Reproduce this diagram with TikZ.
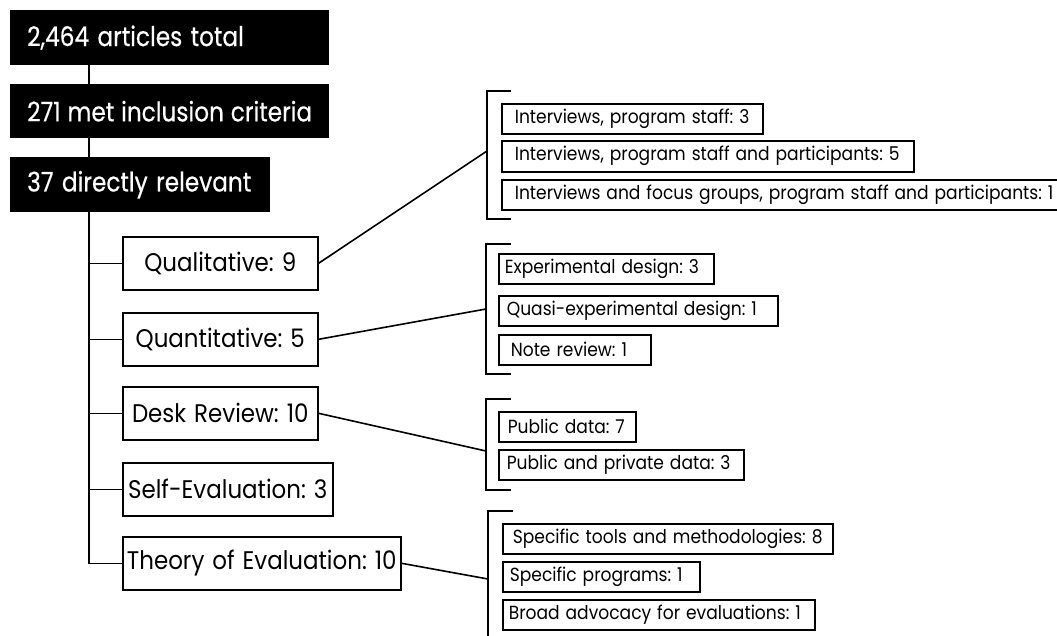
\documentclass[tikz,border=0pt]{standalone}
\usepackage{fontspec}
\setmainfont[FakeStretch=0.9,WordSpace=1.3]{Poppins}
\newfontfamily\medfont[FakeStretch=0.86,FakeBold=0.5,WordSpace=1.35]{Poppins}
\frenchspacing
\begin{document}
\begin{tikzpicture}[x=1pt,y=-1pt,
  every node/.style={font=\fontsize{25.5}{30}\selectfont\frenchspacing},
  lbox/.style={execute at begin node={\hbox to #1\bgroup}, execute at end node={\hfil\egroup}},
  blackbox/.style={fill=black,text=white,anchor=north west,inner xsep=17pt,inner ysep=0pt,minimum height=55pt,font=\medfont\fontsize{27}{30}\selectfont\frenchspacing},
  whitebox/.style={draw=black,line width=1.6pt,fill=white,anchor=north west,inner sep=0pt,minimum height=53pt},
  subbox/.style={draw=black,line width=1.6pt,fill=white,anchor=north west,inner ysep=0pt,minimum height=30pt,font=\fontsize{19}{22}\selectfont\frenchspacing},
  link/.style={draw=black,line width=1.6pt},
  brack/.style={draw=black,line width=1.6pt}]
\useasboundingbox (0,0) rectangle (1057,635);
\fill[white] (0,0) rectangle (1057,635);

% top chain
\node[blackbox,lbox=285pt] (b1) at (10,10) {2,464 articles total};
\node[blackbox,lbox=285pt,minimum height=54pt] (b2) at (10,84) {271 met inclusion criteria};
\node[blackbox,lbox=226pt] (b3) at (10,157) {37 directly relevant};
\coordinate (tx) at (89,0);

% level 2
\node[whitebox,minimum width=195pt] (qual) at (122,236) {Qualitative: 9};
\node[whitebox,minimum width=195pt] (quant) at (122,312) {Quantitative: 5};
\node[whitebox,minimum width=195pt] (desk) at (122,386) {Desk Review: 10};
\node[whitebox,minimum width=210pt] (self) at (122,462) {Self-Evaluation: 3};
\node[whitebox,minimum width=278pt] (theory) at (122,536) {Theory of Evaluation: 10};

\draw[link] (b1.south -| tx) -- (b2.north -| tx);
\draw[link] (b2.south -| tx) -- (b3.north -| tx);
\draw[link] (b3.south -| tx) |- (theory.west);
\draw[link] (qual.west) -- (qual.west -| tx);
\draw[link] (quant.west) -- (quant.west -| tx);
\draw[link] (desk.west) -- (desk.west -| tx);
\draw[link] (self.west) -- (self.west -| tx);

% brackets
\coordinate (k1) at (487,151);
\coordinate (k2) at (486,309);
\coordinate (k3) at (486,451);
\coordinate (k4) at (488,579);
\draw[brack] (511,91) -- (487,91) -- (487,219) -- (511,219);
\draw[brack] (511,244) -- (486,244) -- (486,374) -- (511,374);
\draw[brack] (511,399) -- (486,399) -- (486,490) -- (511,490);
\draw[brack] (513,511) -- (488,511) -- (488,660);

\draw[link] (qual.east) -- (k1);
\draw[link] (quant.east) -- (k2);
\draw[link] (desk.east) -- (k3);
\draw[link] (theory.east) -- (k4);

% sub boxes
\node[subbox,inner xsep=13pt,lbox=235pt] (i1) at (501,103) {Interviews, program staff: 3};
\node[subbox,inner xsep=13pt,lbox=386pt,minimum height=31pt] (i2) at (501,140) {Interviews, program staff and participants: 5};
\node[subbox,inner xsep=13pt,lbox=560pt] (i3) at (501,179) {Interviews and focus groups, program staff and participants: 1};
\node[subbox,inner xsep=6pt,lbox=203pt] (e1) at (498,253) {Experimental design: 3};
\node[subbox,inner xsep=8pt,lbox=263pt] (e2) at (498,295) {Quasi-experimental design: 1};
\node[subbox,inner xsep=12pt,lbox=128pt] (e3) at (498,334) {Note review: 1};
\node[subbox,inner xsep=9pt,lbox=119pt] (p1) at (498,411) {Public data: 7};
\node[subbox,inner xsep=8pt,lbox=229pt] (p2) at (498,449) {Public and private data: 3};
\node[subbox,inner xsep=10pt,lbox=310pt] (s1) at (502,523) {Specific tools and methodologies: 8};
\node[subbox,inner xsep=7pt,lbox=183pt] (s2) at (502,561) {Specific programs: 1};
\node[subbox,inner xsep=6pt,lbox=300pt] (s3) at (502,599) {Broad advocacy for evaluations: 1};
\end{tikzpicture}
\end{document}
